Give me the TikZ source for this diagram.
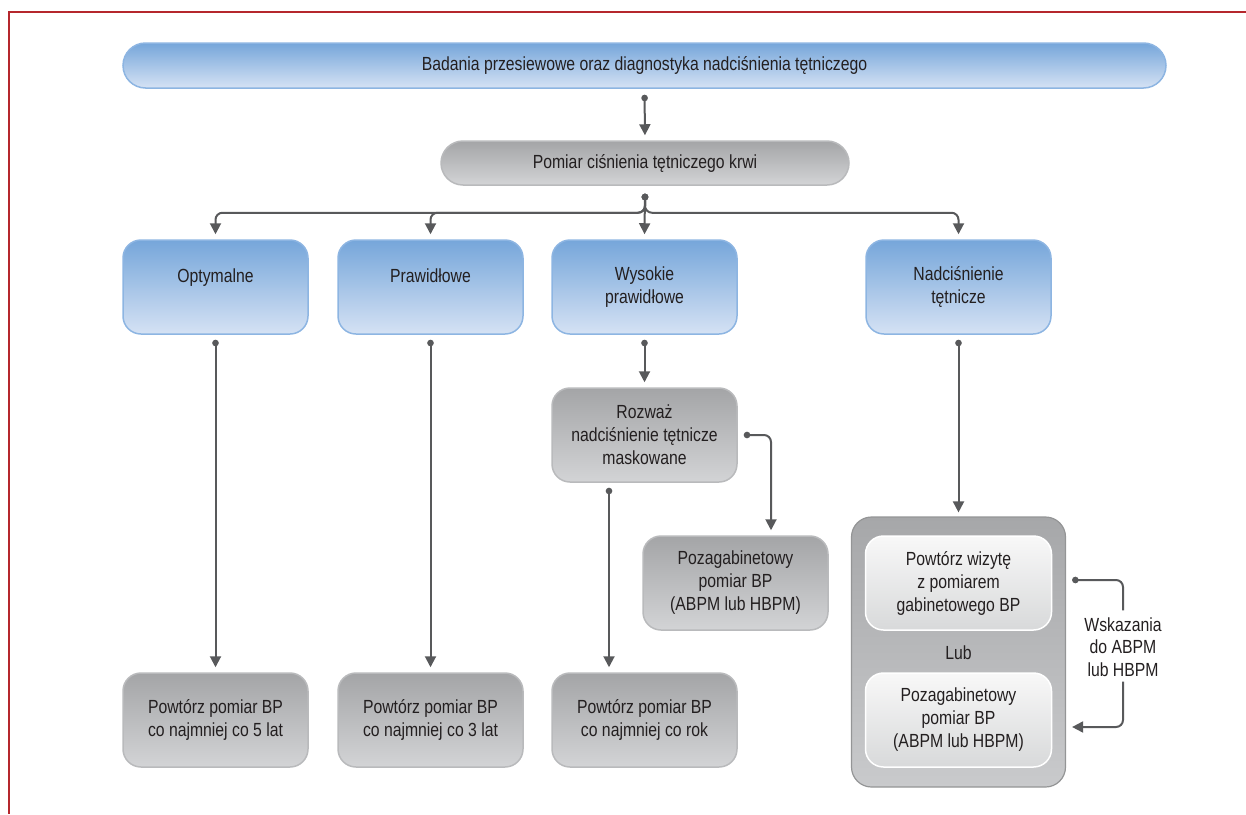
\documentclass[tikz,border=0pt]{standalone}
\usepackage{fontspec}
\setmainfont{Liberation Sans}[FakeStretch=0.83]
\usetikzlibrary{arrows.meta,calc}
\definecolor{lineC}{HTML}{58595B}
\definecolor{frameC}{HTML}{B5272D}
\definecolor{txtC}{HTML}{231F20}
\definecolor{blueTop}{HTML}{76A6DA}
\definecolor{blueBot}{HTML}{D5E2F4}
\definecolor{blueBd}{HTML}{8DB5E2}
\definecolor{grayTop}{HTML}{A4A5A7}
\definecolor{grayBot}{HTML}{D3D4D6}
\definecolor{grayBd}{HTML}{B9BABC}
\definecolor{litTop}{HTML}{F8F8F8}
\definecolor{litBot}{HTML}{D8D9DA}
\definecolor{outTop}{HTML}{A6A7A9}
\definecolor{outBot}{HTML}{C9CACC}
\begin{document}
\begin{tikzpicture}[x=1pt,y=-1pt,
  every node/.style={text=txtC, font=\fontsize{19}{23}\selectfont},
  bluebox/.style={draw=blueBd, line width=1.5pt, top color=blueTop, bottom color=blueBot,
    rounded corners=18pt, minimum width=185pt, minimum height=94pt, align=center, inner sep=0pt},
  graybox/.style={draw=grayBd, line width=1.5pt, top color=grayTop, bottom color=grayBot,
    rounded corners=18pt, minimum width=185pt, minimum height=94pt, align=center, inner sep=0pt},
  litbox/.style={draw=white, line width=1.5pt, top color=litTop, bottom color=litBot,
    rounded corners=18pt, minimum width=186pt, minimum height=94pt, align=center, inner sep=0pt},
  conn/.style={draw=lineC, line width=2pt, rounded corners=7pt,
    arrows={Circle[length=6.5pt,width=6.5pt]-Triangle[length=11pt,width=11pt]},
    shorten <=6pt, shorten >=5pt},
  connA/.style={draw=lineC, line width=2pt, rounded corners=7pt,
    arrows={Circle[length=6.5pt,width=6.5pt]-}, shorten <=6pt},
  connB/.style={draw=lineC, line width=2pt, rounded corners=7pt,
    arrows={-Triangle[length=11pt,width=11pt]}, shorten >=6pt}
]
\useasboundingbox (0,0) rectangle (1246,814);
\draw[frameC, line width=2pt] (1246,12) -- (9,12) -- (9,814);

% top
\node[draw=blueBd, line width=1.5pt, top color=blueTop, bottom color=blueBot,
  rounded corners=22.5pt, minimum width=1043pt, minimum height=45pt, inner sep=0pt]
  (top) at (644.5,65.5) {Badania przesiewowe oraz diagnostyka nadciśnienia tętniczego};
\node[draw=grayBd, line width=1.5pt, top color=grayTop, bottom color=grayBot,
  rounded corners=22pt, minimum width=408pt, minimum height=44pt, inner sep=0pt]
  (pom) at (645,163) {Pomiar ciśnienia tętniczego krwi};

% categories
\node[bluebox] (opt) at (215.5,287) {Optymalne\\\mbox{}};
\node[bluebox] (pra) at (430.5,287) {Prawidłowe\\\mbox{}};
\node[bluebox] (wys) at (644.5,287) {Wysokie\\prawidłowe};
\node[bluebox] (nad) at (958.5,287) {Nadciśnienie\\tętnicze};

% bottom row
\node[graybox] (b1) at (215.5,720) {Powtórz pomiar BP\\co najmniej co 5 lat};
\node[graybox] (b2) at (430.5,720) {Powtórz pomiar BP\\co najmniej co 3 lat};
\node[graybox] (b3) at (644.5,720) {Powtórz pomiar BP\\co najmniej co rok};

\node[graybox] (roz) at (644.5,435) {Rozważ\\nadciśnienie tętnicze\\maskowane};
\node[graybox] (poz) at (735.5,583) {Pozagabinetowy\\pomiar BP\\(ABPM lub HBPM)};

% right group
\node[draw=grayBd!80!black, line width=1.2pt, top color=outTop, bottom color=outBot,
  rounded corners=20pt, minimum width=214pt, minimum height=270pt, inner sep=0pt]
  (outer) at (958.5,652) {};
\node[litbox] (in1) at (958.5,583) {Powtórz wizytę\\z pomiarem\\gabinetowego BP};
\node (lub) at (958.5,653) {Lub};
\node[litbox] (in2) at (958.5,720) {Pozagabinetowy\\pomiar BP\\(ABPM lub HBPM)};
\node[align=center, inner sep=0pt, font=\fontsize{19}{22.5}\selectfont] (wsk) at (1123,647) {Wskazania\\do ABPM\\lub HBPM};

% connectors
\draw[conn] (top.south) -- (pom.north);
\draw[conn, shorten <=8pt] (pom.south) -- ++(0,27) -| (opt.north);
\draw[conn, shorten <=8pt] (pom.south) -- ++(0,27) -| (pra.north);
\draw[conn, shorten <=8pt] (pom.south) -- (wys.north);
\draw[conn, shorten <=8pt] (pom.south) -- ++(0,27) -| (nad.north);

\draw[conn, shorten <=5pt] (opt.south) -- (b1.north);
\draw[conn, shorten <=5pt] (pra.south) -- (b2.north);
\draw[conn, shorten <=5pt] (wys.south) -- (roz.north);
\coordinate (xr) at (609,0);
\coordinate (xk) at (771,0);
\draw[conn, shorten <=5pt] (roz.south -| xr) -- (b3.north -| xr);
\draw[conn, shorten <=6pt] (roz.east) -- (roz.east -| xk) -- (poz.north -| xk);
\draw[conn, shorten <=5pt, shorten >=4pt] (nad.south) -- (outer.north);

\draw[connA] ($(in1.east -| outer.east)+(0,-3)$) -| ($(wsk.north)+(0,-7)$);
\draw[connB] ($(wsk.south)+(0,5)$) |- ($(in2.east -| outer.east)+(0,7)$);
\end{tikzpicture}
\end{document}
